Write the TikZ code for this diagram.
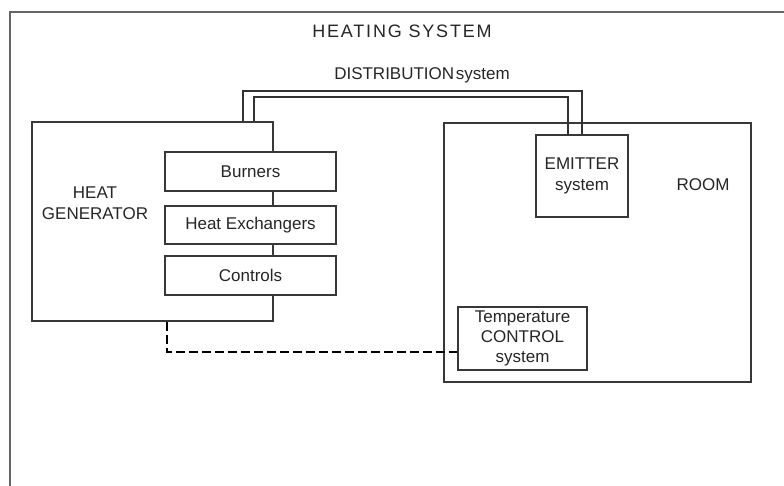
\documentclass[tikz,border=0pt]{standalone}
\usepackage{fontspec}
\setmainfont{Liberation Sans}
\begin{document}
\begin{tikzpicture}[x=1pt,y=-1pt,
  every node/.style={font=\fontsize{17}{21}\selectfont, text=black!85},
  box/.style={draw=black!78, line width=1.8pt, fill=white, inner sep=0pt, align=center},
  lbl/.style={inner sep=0pt, align=center},
  pipe/.style={draw=black!80, line width=1.8pt},
  ctrl/.style={draw=black, line width=1.6pt, dash pattern=on 9pt off 4pt},
  frame/.style={draw=black!60, line width=2.6pt}]
\useasboundingbox (0,0) rectangle (784,486);
% outer frame (cut off at right and bottom)
\draw[frame] (10,500) -- (10,12) -- (800,12);
\node[lbl, font=\fontsize{18}{21}\selectfont\addfontfeatures{LetterSpace=10}] (title) at (402,31) {HEATING SYSTEM};
\node[lbl] (dist) at (422,75) {DISTRIBUTION\hspace{0.1em}system};
% heat generator
\node[box, minimum width=241pt, minimum height=199pt] (gen) at (152.5,221.5) {};
\node[lbl] (genlbl) at (95,203) {HEAT\\GENERATOR};
\node[box, minimum width=171pt, minimum height=39pt] (burn) at (250.5,171.5) {Burners};
\node[box, minimum width=171pt, minimum height=38pt] (hx) at (250.5,225) {Heat Exchangers};
\node[box, minimum width=171pt, minimum height=39pt] (ctl) at (250.5,275.5) {Controls};
% room
\node[box, minimum width=307pt, minimum height=259pt] (room) at (597.5,252.5) {};
\node[lbl] (roomlbl) at (703,185) {ROOM};
\node[box, minimum width=92pt, minimum height=82pt] (emit) at (582,176) {EMITTER\\system};
\node[box, minimum width=129pt, minimum height=63pt, font=\fontsize{17}{20}\selectfont] (temp) at (522.5,338.5) {Temperature\\CONTROL\\system};
% distribution pipes
\coordinate (oa) at (243,91);
\coordinate (ob) at (582,91);
\coordinate (ia) at (254,97);
\coordinate (ib) at (568,97);
\draw[pipe] (gen.north -| oa) -- (oa) -- (ob) -- (emit.north -| ob);
\draw[pipe] (gen.north -| ia) -- (ia) -- (ib) -- (emit.north -| ib);
% control signal
\coordinate (dc) at (167,352);
\draw[ctrl] (gen.south -| dc) -- (dc) -- (temp.west |- dc);
\end{tikzpicture}
\end{document}
